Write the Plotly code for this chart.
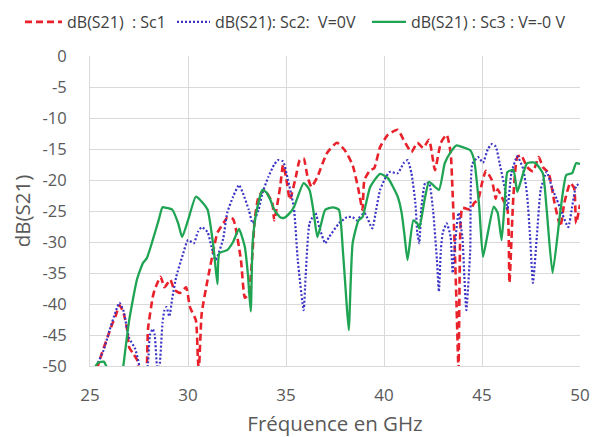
import plotly.graph_objects as go

# Sc1 (red dashed)
f_sc1 = [25.35, 25.6, 25.9, 26.1, 26.3, 26.5, 26.7, 26.9, 27.0, 27.2, 27.4, 27.5, 27.7, 27.9, 27.96,
         28.2, 28.3, 28.6, 28.8, 29.1, 29.3, 29.6, 29.9, 30.1, 30.4, 30.5, 30.55, 30.7, 31.0, 31.3,
         31.5, 31.8, 32.0, 32.3, 32.7, 32.9, 33.1, 33.3, 33.4, 33.6, 33.9, 34.3, 34.4, 34.7, 34.85,
         35.0, 35.2, 35.5, 35.7, 35.9, 36.1, 36.3, 36.6, 37.1, 37.6, 38.0, 38.4, 38.7, 38.9, 39.0,
         39.3, 39.5, 39.8, 40.2, 40.7, 41.0, 41.4, 41.7, 42.0, 42.3, 42.6, 42.9, 43.2, 43.4, 43.5,
         43.6, 43.7, 43.8, 43.9, 44.0, 44.4, 44.6, 44.8, 45.0, 45.2, 45.5, 45.7, 45.8, 46.0, 46.3,
         46.4, 46.6, 46.8, 47.0, 47.3, 47.6, 47.9, 48.1, 48.4, 48.7, 49.0, 49.2, 49.5, 49.7, 49.8, 50.0]
db_sc1 = [-50.5, -48, -45.3, -43.5, -42, -40.2, -41.3, -44.2, -47, -48, -49, -51, -55, -50, -44,
          -38.9, -37.7, -35.6, -37.3, -36.1, -37.7, -38.2, -37.3, -40.5, -42.6, -48.5, -51, -41.5, -36.1, -31.3,
          -28.5, -27, -26.1, -26.3, -32.9, -39, -38.2, -31.3, -26.5, -22.7, -21.6, -23.7, -26.5, -21.1, -17.6,
          -19.5, -23.2, -19.5, -16.8, -16.5, -19.5, -21.1, -19.5, -15.6, -14, -15.2, -17.6, -21.6, -24.8, -20,
          -18.4, -18.1, -14.7, -12.7, -11.9, -13.5, -15.5, -14, -14.8, -13.5, -18.4, -14, -12.7, -15.6, -22,
          -30, -40, -50.5, -27.5, -24.5, -24.8, -23.7, -23.2, -20.5, -18.5, -20, -23, -21.5, -22.7, -24.8,
          -36.6, -22.7, -16.3, -16, -17.9, -18.6, -16.3, -17.9, -18.9, -23.7, -27.5, -23.7, -20.5, -21.3, -27, -24]

# Sc2 : V=0V (blue dotted)
f_sc2 = [25.4, 25.7, 26.0, 26.3, 26.5, 26.7, 26.9, 27.0, 27.3, 27.45, 27.55, 27.8, 27.96, 28.06, 28.2,
         28.3, 28.45, 28.55, 28.7, 28.8, 28.9, 29.05, 29.2, 29.4, 29.7, 30.0, 30.3, 30.5, 30.7, 31.0,
         31.2, 31.4, 31.5, 31.8, 32.0, 32.3, 32.6, 32.8, 33.1, 33.3, 33.6, 33.8, 34.1, 34.4, 34.6,
         34.85, 35.1, 35.4, 35.6, 35.9, 36.0, 36.2, 36.5, 36.7, 37.0, 37.2, 37.7, 38.1, 38.4, 38.6,
         39.0, 39.4, 39.6, 39.8, 40.1, 40.3, 40.7, 41.0, 41.2, 41.4, 41.6, 41.7, 41.8, 41.9, 42.1,
         42.3, 42.5, 42.7, 42.8, 42.9, 43.0, 43.2, 43.4, 43.5, 43.6, 43.8, 44.0, 44.1, 44.2, 44.4,
         44.5, 44.8, 45.05, 45.3, 45.5, 45.7, 45.9, 46.2, 46.3, 46.5, 46.8, 47.1, 47.3, 47.45, 47.6,
         47.8, 48.0, 48.3, 48.6, 48.8, 49.1, 49.4, 49.6, 49.8, 50.0]
db_sc2 = [-49.5, -47.4, -44.2, -41.3, -39.8, -41, -44.2, -45.5, -47.2, -49, -50.5, -53, -49.5, -45, -44,
          -45, -51, -50, -43, -41, -40.5, -42, -39, -35.6, -32.4, -29.7, -30.2, -28.4, -27.6, -28.4,
          -30.8, -32.9, -32.4, -29.4, -25.3, -22.7, -20.8, -22.1, -24.8, -27, -24.8, -22.1, -19.5, -17.5, -16.8,
          -17, -20, -24.4, -32.9, -41, -35.6, -27, -25.3, -27.6, -30.2, -29.2, -27, -26, -26, -26.5,
          -25.3, -27.8, -24.8, -21.6, -19.5, -18.7, -18.9, -17.3, -16.8, -18.9, -23.7, -28.5, -30.2, -24.8, -20.5,
          -20.5, -24.8, -32.9, -38, -31.3, -28.5, -27, -29.2, -35, -31.3, -25.3, -29.2, -35.6, -41, -31.3,
          -17.5, -16.3, -17.2, -15, -14.2, -14.6, -17.3, -22, -24.8, -18.9, -16.2, -18.2, -22.4, -29, -36.6,
          -29, -21.5, -18.7, -21.5, -23, -25.5, -27.6, -24.3, -21, -20.5]

# Sc3 : V=-0 V (green solid)
f_sc3 = [25.2, 25.4, 25.7, 25.9, 26.2, 26.5, 26.7, 27.0, 27.4, 27.7, 27.9, 28.2, 28.5, 28.7, 28.9,
         29.2, 29.5, 29.7, 30.0, 30.4, 30.7, 31.0, 31.3, 31.5, 31.6, 32.0, 32.3, 32.6, 32.9, 33.05,
         33.2, 33.3, 33.5, 33.8, 34.0, 34.2, 34.4, 34.7, 34.9, 35.2, 35.4, 35.9, 36.2, 36.4, 36.6,
         36.8, 37.0, 37.4, 37.7, 37.9, 38.05, 38.2, 38.4, 38.7, 38.9, 39.3, 39.8, 40.2, 40.7, 40.9,
         41.05, 41.2, 41.5, 41.7, 41.8, 42.1, 42.3, 42.8, 43.1, 43.4, 43.7, 44.1, 44.4, 44.6, 44.85,
         45.05, 45.3, 45.6, 45.8, 46.0, 46.15, 46.3, 46.6, 46.8, 47.0, 47.3, 47.7, 48.1, 48.3, 48.6,
         49.0, 49.3, 49.6, 49.8, 50.0]
db_sc3 = [-50.5, -49.5, -49.3, -50.5, -53, -55, -50, -42.6, -36, -33.4, -32.6, -29.7, -26.5, -24.4, -24.5,
          -24.8, -27, -29.2, -26.5, -22.7, -23.5, -24.8, -30.8, -36.8, -31.8, -31.3, -30, -27.9, -30.8, -35,
          -41.2, -30, -25, -21.6, -22, -23.2, -24.8, -26, -26.1, -25.3, -24.4, -20.5, -21.6, -25, -29.2,
          -27, -24.8, -24.4, -24.8, -31.3, -38, -44.2, -30.2, -26.5, -26, -21.1, -19, -19.7, -22.7, -25.3,
          -29, -32.9, -26.5, -27, -27.8, -22.7, -20.3, -21.6, -17.3, -15.5, -14.4, -14.8, -15.2, -16.8, -24,
          -32.4, -28.5, -24.3, -25.3, -29.7, -24, -18.7, -18.4, -21.9, -20, -17.3, -17.2, -18.9, -24.8, -35,
          -25, -19.2, -18.9, -17.3, -17.4]

series_names = ["dB(S21)  : Sc1", "dB(S21): Sc2:  V=0V", "dB(S21) : Sc3 : V=-0 V"]
x_ticks = [25, 30, 35, 40, 45, 50]
y_ticks = [0, -5, -10, -15, -20, -25, -30, -35, -40, -45, -50]

FONT = "Open Sans, Noto Sans, sans-serif"
W, H = 593, 429  # page body has an 8px margin in the 601x437 window

fig = go.Figure()
fig.add_trace(go.Scatter(x=f_sc1, y=db_sc1, mode="lines", name=series_names[0], legend="legend",
                         line=dict(color="#e8212b", width=2.6, dash="7px,4px", shape="spline", smoothing=0.5)))
fig.add_trace(go.Scatter(x=f_sc2, y=db_sc2, mode="lines", name=series_names[1], legend="legend2",
                         line=dict(color="#3b34c4", width=2.2, dash="2px,2px", shape="spline", smoothing=0.5)))
fig.add_trace(go.Scatter(x=f_sc3, y=db_sc3, mode="lines", name=series_names[2], legend="legend3",
                         line=dict(color="#1ea452", width=2.3, shape="spline", smoothing=0.5)))


def leg(xpx, iw):
    return dict(orientation="h", xref="container", yref="container",
                x=xpx / W, y=1 - 14 / H, xanchor="left", yanchor="middle",
                font=dict(size=16, color="#404040", family=FONT),
                itemwidth=iw, bgcolor="rgba(0,0,0,0)", borderwidth=0)


fig.update_layout(
    width=W, height=H,
    margin=dict(l=82, r=21, t=48, b=71, autoexpand=False),
    paper_bgcolor="white", plot_bgcolor="white",
    font=dict(family=FONT, color="#595959"),
    showlegend=True,
    legend=leg(12, 37),
    legend2=leg(164, 33),
    legend3=leg(359, 34),
    xaxis=dict(range=[25, 50], tickvals=x_ticks, ticktext=[str(v) for v in x_ticks],
               automargin=False,
               showgrid=True, gridcolor="#d9d9d9", gridwidth=1,
               showline=True, linecolor="#d9d9d9", linewidth=1,
               zeroline=False, ticks="", ticklabelstandoff=14,
               tickfont=dict(size=17, color="#595959"),
               title=dict(text="Fréquence en GHz", font=dict(size=20.5, color="#595959"), standoff=14)),
    yaxis=dict(range=[-50, 0], tickvals=y_ticks, ticktext=[str(v) for v in y_ticks],
               automargin=False,
               showgrid=True, gridcolor="#d9d9d9", gridwidth=1,
               showline=True, linecolor="#d9d9d9", linewidth=1,
               zeroline=False, ticks="", ticklabelstandoff=19,
               tickfont=dict(size=16.5, color="#595959"),
               title=dict(text="dB(S21)", font=dict(size=20.5, color="#595959"), standoff=14)),
)

fig.write_html("out.html")
